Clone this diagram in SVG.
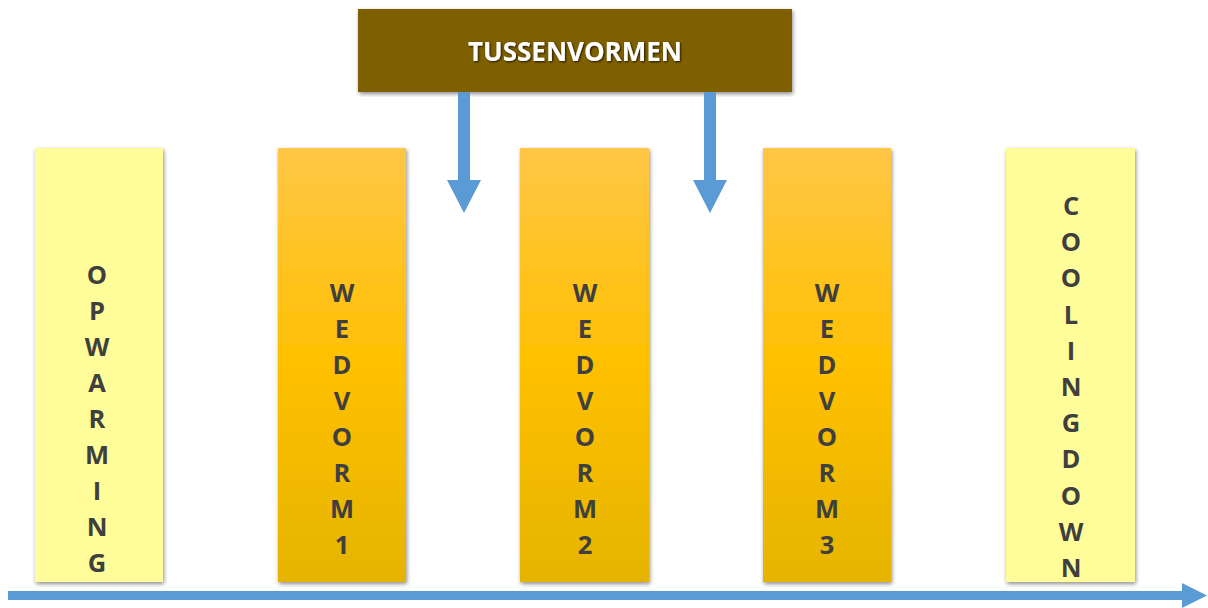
<svg xmlns="http://www.w3.org/2000/svg" width="1208" height="608" viewBox="0 0 1208 608">
<defs>
  <linearGradient id="orange" x1="0" y1="0" x2="0" y2="1">
    <stop offset="0" stop-color="#FFC646"/>
    <stop offset="0.5" stop-color="#FFC000"/>
    <stop offset="1" stop-color="#E5B400"/>
  </linearGradient>
  <filter id="shadow" x="-10%" y="-5%" width="120%" height="110%">
    <feGaussianBlur in="SourceAlpha" stdDeviation="2"/>
    <feOffset dx="1" dy="2" result="b"/>
    <feComponentTransfer><feFuncA type="linear" slope="0.45"/></feComponentTransfer>
    <feMerge><feMergeNode/><feMergeNode in="SourceGraphic"/></feMerge>
  </filter>
  <filter id="tshadow" x="-5%" y="-20%" width="110%" height="140%">
    <feGaussianBlur in="SourceAlpha" stdDeviation="0.8"/>
    <feOffset dx="1" dy="1"/>
    <feComponentTransfer><feFuncA type="linear" slope="0.8"/></feComponentTransfer>
    <feMerge><feMergeNode/><feMergeNode in="SourceGraphic"/></feMerge>
  </filter>
</defs>
<style>
  .yel { fill: #FFFD99; }
  .org { fill: url(#orange); }
  .lbl { font-family: "Open Sans", "Liberation Sans", sans-serif; font-weight: bold; font-size: 25.5px; fill: #3F3F3F; text-anchor: middle; }
  .top { font-family: "Open Sans", "Liberation Sans", sans-serif; font-weight: bold; font-size: 26px; fill: #FFFFFF; text-anchor: middle; }
  .blue { fill: #5B9BD5; }
</style>
<rect width="1208" height="608" fill="#FFFFFF"/>

<g id="tussenvormen">
  <rect x="358" y="9" width="434" height="83" fill="#7F6000" filter="url(#shadow)"/>
  <text class="top" x="575" y="61" filter="url(#tshadow)">TUSSENVORMEN</text>
</g>

<g id="opwarming">
  <rect class="yel" x="35" y="148" width="128" height="434" filter="url(#shadow)"/>
  <text class="lbl">
    <tspan x="97" y="284">O</tspan><tspan x="97" y="320">P</tspan><tspan x="97" y="356">W</tspan><tspan x="97" y="392">A</tspan><tspan x="97" y="428">R</tspan><tspan x="97" y="464">M</tspan><tspan x="97" y="500">I</tspan><tspan x="97" y="536">N</tspan><tspan x="97" y="572">G</tspan>
  </text>
</g>

<g id="wedvorm1">
  <rect class="org" x="278" y="148" width="128" height="434" filter="url(#shadow)"/>
  <text class="lbl">
    <tspan x="342" y="302">W</tspan><tspan x="342" y="338">E</tspan><tspan x="342" y="374">D</tspan><tspan x="342" y="410">V</tspan><tspan x="342" y="446">O</tspan><tspan x="342" y="482">R</tspan><tspan x="342" y="518">M</tspan><tspan x="342" y="554">1</tspan>
  </text>
</g>

<g id="wedvorm2">
  <rect class="org" x="520" y="148" width="129" height="434" filter="url(#shadow)"/>
  <text class="lbl">
    <tspan x="585" y="302">W</tspan><tspan x="585" y="338">E</tspan><tspan x="585" y="374">D</tspan><tspan x="585" y="410">V</tspan><tspan x="585" y="446">O</tspan><tspan x="585" y="482">R</tspan><tspan x="585" y="518">M</tspan><tspan x="585" y="554">2</tspan>
  </text>
</g>

<g id="wedvorm3">
  <rect class="org" x="763" y="148" width="128" height="434" filter="url(#shadow)"/>
  <text class="lbl">
    <tspan x="827" y="302">W</tspan><tspan x="827" y="338">E</tspan><tspan x="827" y="374">D</tspan><tspan x="827" y="410">V</tspan><tspan x="827" y="446">O</tspan><tspan x="827" y="482">R</tspan><tspan x="827" y="518">M</tspan><tspan x="827" y="554">3</tspan>
  </text>
</g>

<g id="coolingdown">
  <rect class="yel" x="1006" y="148" width="129" height="434" filter="url(#shadow)"/>
  <text class="lbl">
    <tspan x="1071" y="215">C</tspan><tspan x="1071" y="251">O</tspan><tspan x="1071" y="287">O</tspan><tspan x="1071" y="324">L</tspan><tspan x="1071" y="360">I</tspan><tspan x="1071" y="396">N</tspan><tspan x="1071" y="432">G</tspan><tspan x="1071" y="468">D</tspan><tspan x="1071" y="505">O</tspan><tspan x="1071" y="541">W</tspan><tspan x="1071" y="577">N</tspan>
  </text>
</g>

<g id="connectors">
  <polygon class="blue" points="458,92 470,92 470,180 481,180 464,213 447,180 458,180"/>
  <polygon class="blue" points="704,92 716,92 716,180 727,180 710,213 693,180 704,180"/>
  <polygon class="blue" points="8,591 1182,591 1182,583 1207,595.5 1182,608 1182,600 8,600"/>
</g>
</svg>
